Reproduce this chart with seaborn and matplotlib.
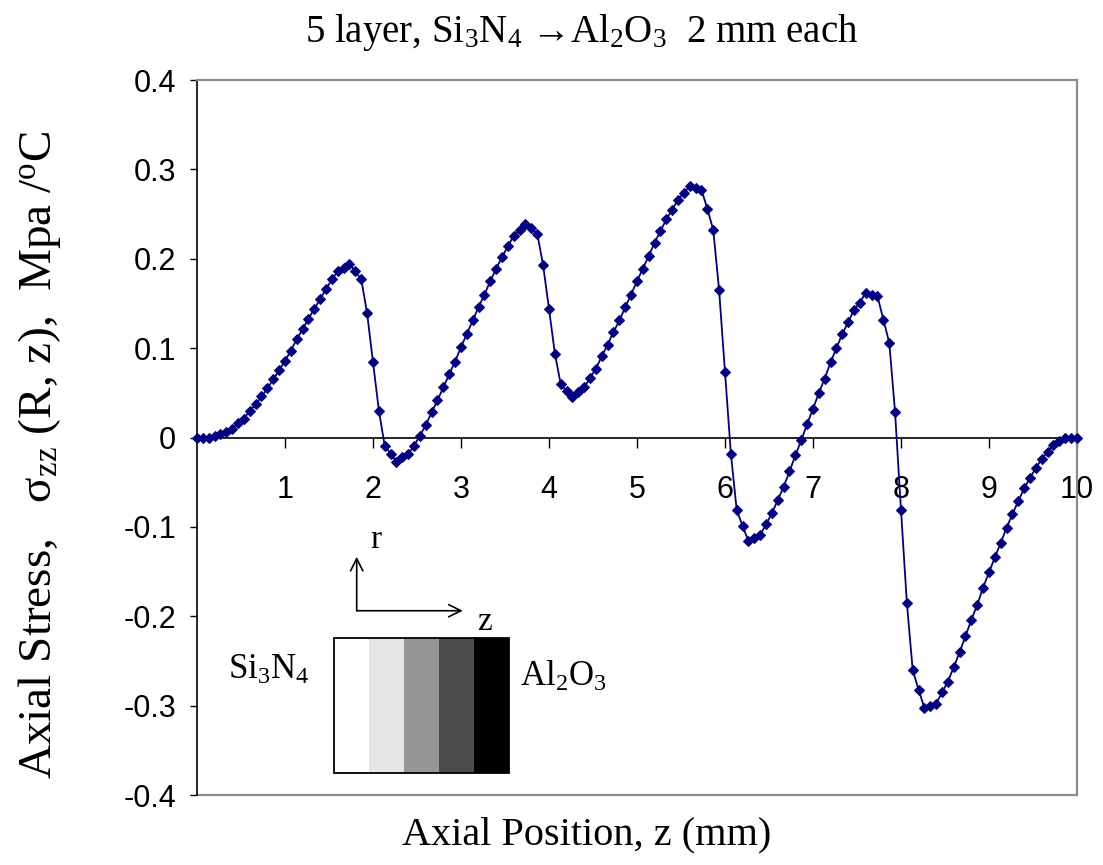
import matplotlib
matplotlib.use("Agg")
import matplotlib.pyplot as plt
from matplotlib.patches import Rectangle
from matplotlib.lines import Line2D
import seaborn as sns
import pandas as pd

# Axial positions of the mesh nodes along the 10 mm stack (mm)
z_mm = [
    0.000, 0.067, 0.133, 0.200, 0.267, 0.333, 0.400, 0.467, 0.533, 0.600, 0.667, 0.733, 0.800, 0.867, 0.933,
    1.000, 1.067, 1.133, 1.200, 1.267, 1.333, 1.400, 1.467, 1.533, 1.600, 1.667, 1.733, 1.800, 1.867, 1.933,
    2.000, 2.067, 2.133, 2.200, 2.267, 2.333, 2.400, 2.467, 2.533, 2.600, 2.667, 2.733, 2.800, 2.867, 2.933,
    3.000, 3.067, 3.133, 3.200, 3.267, 3.333, 3.400, 3.467, 3.533, 3.600, 3.667, 3.733, 3.800, 3.867, 3.933,
    4.000, 4.067, 4.133, 4.200, 4.267, 4.333, 4.400, 4.467, 4.533, 4.600, 4.667, 4.733, 4.800, 4.867, 4.933,
    5.000, 5.067, 5.133, 5.200, 5.267, 5.333, 5.400, 5.467, 5.533, 5.600, 5.667, 5.733, 5.800, 5.867, 5.933,
    6.000, 6.067, 6.133, 6.200, 6.267, 6.333, 6.400, 6.467, 6.533, 6.600, 6.667, 6.733, 6.800, 6.867, 6.933,
    7.000, 7.067, 7.133, 7.200, 7.267, 7.333, 7.400, 7.467, 7.533, 7.600, 7.667, 7.733, 7.800, 7.867, 7.933,
    8.000, 8.067, 8.133, 8.200, 8.267, 8.333, 8.400, 8.467, 8.533, 8.600, 8.667, 8.733, 8.800, 8.867, 8.933,
    9.000, 9.067, 9.133, 9.200, 9.267, 9.333, 9.400, 9.467, 9.533, 9.600, 9.667, 9.733, 9.800, 9.867, 9.933,
    10.000,
]

# Axial stress sigma_zz(R, z) per degree of temperature change (MPa/degC)
sigma_zz = [
    0.000, 0.000, 0.000, 0.002, 0.004, 0.006, 0.010, 0.016, 0.021, 0.030, 0.037, 0.046, 0.055, 0.065, 0.075,
    0.086, 0.097, 0.110, 0.121, 0.133, 0.144, 0.155, 0.166, 0.177, 0.186, 0.190, 0.194, 0.186, 0.177, 0.139,
    0.084, 0.030, -0.009, -0.018, -0.027, -0.022, -0.019, -0.009, 0.002, 0.014, 0.028, 0.042, 0.056, 0.071, 0.085,
    0.101, 0.116, 0.131, 0.146, 0.160, 0.175, 0.189, 0.202, 0.214, 0.226, 0.232, 0.239, 0.234, 0.228, 0.193,
    0.144, 0.094, 0.060, 0.052, 0.045, 0.051, 0.056, 0.067, 0.077, 0.091, 0.104, 0.118, 0.131, 0.146, 0.160,
    0.175, 0.189, 0.203, 0.218, 0.231, 0.244, 0.255, 0.266, 0.274, 0.281, 0.279, 0.277, 0.256, 0.232, 0.165,
    0.073, -0.018, -0.081, -0.099, -0.116, -0.112, -0.109, -0.097, -0.085, -0.070, -0.055, -0.038, -0.020, -0.003, 0.015,
    0.032, 0.050, 0.066, 0.084, 0.100, 0.116, 0.129, 0.143, 0.151, 0.162, 0.160, 0.158, 0.132, 0.106, 0.028,
    -0.081, -0.185, -0.260, -0.282, -0.303, -0.300, -0.298, -0.285, -0.273, -0.257, -0.240, -0.222, -0.204, -0.187, -0.168,
    -0.151, -0.134, -0.118, -0.101, -0.086, -0.071, -0.057, -0.045, -0.034, -0.024, -0.016, -0.008, -0.004, -0.001, 0.000,
    0.000,
]

x_ticks = [1, 2, 3, 4, 5, 6, 7, 8, 9, 10]
x_tick_labels = ["1", "2", "3", "4", "5", "6", "7", "8", "9", "10"]
y_ticks = [-0.4, -0.3, -0.2, -0.1, 0.0, 0.1, 0.2, 0.3, 0.4]
y_tick_labels = ["-0.4", "-0.3", "-0.2", "-0.1", "0", "0.1", "0.2", "0.3", "0.4"]

# Grey shades of the five graded layers, Si3N4 side to Al2O3 side
layer_colors = ["#ffffff", "#e6e6e6", "#969696", "#4b4b4b", "#000000"]

sns.set_style("white")
plt.rcParams["font.family"] = ["Liberation Serif", "DejaVu Serif"]
plt.rcParams["mathtext.fontset"] = "custom"
plt.rcParams["mathtext.rm"] = "Liberation Serif"
plt.rcParams["mathtext.it"] = "Liberation Serif:italic"
for key in ("text.color", "axes.labelcolor", "xtick.color", "ytick.color"):
    plt.rcParams[key] = "black"

SERIF = ["Liberation Serif", "DejaVu Serif"]
SANS = ["Liberation Sans", "DejaVu Sans"]

fig = plt.figure(figsize=(11.03, 8.65), dpi=100)
ax = fig.add_axes([0.1786, 0.0809, 0.7978, 0.8266])

df = pd.DataFrame({"z": z_mm, "stress": sigma_zz})
sns.lineplot(data=df, x="z", y="stress", ax=ax, color="#000080", linewidth=1.3,
             marker="D", markersize=5.4, markeredgecolor="#000080",
             markerfacecolor="#000080", zorder=5, clip_on=False)

# Value axis on the left, category axis through zero, grey plot-area border
ax.spines["bottom"].set_position(("data", 0))
ax.spines["bottom"].set_color("black")
ax.spines["bottom"].set_linewidth(1.2)
ax.spines["left"].set_color("black")
ax.spines["left"].set_linewidth(1.2)
for side in ("top", "right"):
    ax.spines[side].set_color("#8c8c8c")
    ax.spines[side].set_linewidth(1.6)
ax.add_line(Line2D([0, 1], [0, 0], transform=ax.transAxes, color="#8c8c8c",
                   linewidth=1.6, clip_on=False))

ax.set_xlim(0, 10)
ax.set_ylim(-0.4, 0.4)
ax.set_xlabel("")
ax.set_ylabel("")

ax.set_xticks(x_ticks)
ax.set_xticklabels(x_tick_labels, family=SANS, fontsize=22, color="black")
ax.set_yticks(y_ticks)
ax.set_yticklabels(y_tick_labels, family=SANS, fontsize=22, color="black")
ax.tick_params(axis="y", direction="out", length=5, width=1, color="black", pad=10, left=True)
ax.tick_params(axis="x", direction="out", length=7, width=1, color="black", pad=20, bottom=True)

# Coordinate arrows r and z
ax.annotate("", xy=(1.815, -0.1334), xytext=(1.815, -0.1938),
            arrowprops=dict(arrowstyle="->", color="black", lw=1.2,
                            mutation_scale=22, shrinkA=0, shrinkB=0))
ax.annotate("", xy=(3.02, -0.1938), xytext=(1.815, -0.1938),
            arrowprops=dict(arrowstyle="->", color="black", lw=1.2,
                            mutation_scale=22, shrinkA=0, shrinkB=0))
ax.text(2.03, -0.1147, "r", family=SERIF, fontsize=24, ha="center", va="center")
ax.text(3.27, -0.2064, "z", family=SERIF, fontsize=24, ha="center", va="center")

# Layered specimen sketch
x0, width, y_top, y_bot = 1.56, 0.398, -0.224, -0.3757
for i, c in enumerate(layer_colors):
    ax.add_patch(Rectangle((x0 + i * width, y_bot), width, y_top - y_bot,
                           facecolor=c, edgecolor="none", zorder=3))
ax.add_patch(Rectangle((x0, y_bot), 5 * width, y_top - y_bot, facecolor="none",
                       edgecolor="black", linewidth=1.3, zorder=4))
ax.text(0.81, -0.26, r"Si$_3$N$_4$", family=SERIF, fontsize=25, ha="center", va="center")
ax.text(4.16, -0.268, r"Al$_2$O$_3$", family=SERIF, fontsize=25, ha="center", va="center")

fig.text(0.527, 0.962, r"5 layer, Si$_3$N$_4$ →Al$_2$O$_3$  2 mm each",
         family=SERIF, fontsize=28, ha="center", va="center")
fig.text(0.532, 0.035, "Axial Position, z (mm)", family=SERIF, fontsize=29,
         ha="center", va="center")
fig.text(0.036, 0.474, r"Axial Stress,   σ$_{\mathrm{zz}}$ (R, z),  Mpa /$^{\mathrm{o}}$C",
         family=SERIF, fontsize=34, ha="center", va="center", rotation=90)

fig.savefig("out.png", dpi=100, facecolor="white")
